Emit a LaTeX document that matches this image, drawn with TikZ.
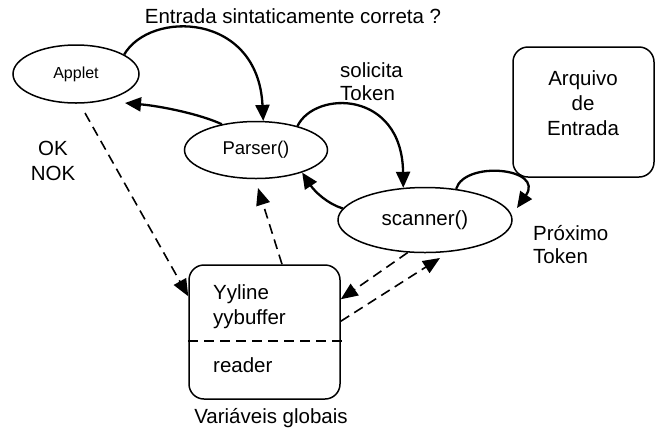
\documentclass[tikz,border=0pt]{standalone}
\usepackage{fontspec}
\setmainfont{Liberation Sans}
\usetikzlibrary{arrows.meta,calc,shapes.geometric}
\begin{document}
\begin{tikzpicture}[x=1pt,y=-1pt,
  ell/.style={draw,ellipse,line width=1.5pt,inner sep=0pt},
  rbox/.style={draw,rectangle,line width=1.5pt,inner sep=0pt},
  lbl/.style={inner sep=0pt,font=\fontsize{20.5}{24}\selectfont},
  solidarr/.style={line width=2.3pt,-{Triangle[length=16pt,width=14pt]}},
  dasharr/.style={line width=1.6pt,dash pattern=on 10pt off 6pt,-{Triangle[length=17pt,width=14pt]}}]
\useasboundingbox (0,0) rectangle (655,432);
% nodes
\node[ell,minimum width=126pt,minimum height=58pt,font=\fontsize{16}{19}\selectfont] (applet) at (76,74) {Applet};
\node[ell,minimum width=143pt,minimum height=57pt,font=\fontsize{18.5}{22}\selectfont] (parser) at (256,150) {Parser()};
\node[ell,minimum width=174pt,minimum height=65pt,font=\fontsize{20.5}{24}\selectfont] (scanner) at (425,220) {scanner()};
\node[rbox,rounded corners=15pt,minimum width=141pt,minimum height=130pt] (arq) at (583.5,112) {};
\node[rbox,rounded corners=15pt,minimum width=151pt,minimum height=134pt] (vars) at (264.5,332) {};
% texts
\node[lbl,anchor=base] (title) at (293,23) {Entrada sintaticamente correta ?};
\node[lbl,anchor=base] (ok) at (53,155) {OK};
\node[lbl,anchor=base] (nok) at (53,180) {NOK};
\node[lbl,anchor=base west] (sol1) at (340,77) {solicita};
\node[lbl,anchor=base west] (sol2) at (340,100) {Token};
\node[lbl,anchor=base] (arq1) at (583,85) {Arquivo};
\node[lbl,anchor=base] (arq2) at (583,110) {de};
\node[lbl,anchor=base] (arq3) at (583,135) {Entrada};
\node[lbl,anchor=base west] (prox1) at (533,240) {Próximo};
\node[lbl,anchor=base west] (prox2) at (533,263) {Token};
\node[lbl,anchor=base west] (v1) at (213,299) {Yyline};
\node[lbl,anchor=base west] (v2) at (213,324) {yybuffer};
\node[lbl,anchor=base west] (v3) at (213,372) {reader};
\node[lbl,anchor=base] (vg) at (271,423) {Variáveis globais};
% dashed separator in box
\draw[line width=1.6pt,dash pattern=on 10pt off 6pt] ([yshift=-77pt]vars.north west) -- ([yshift=-77pt,xshift=2pt]vars.north east);
% solid arrows
\draw[solidarr] (applet.22) .. controls (150,10) and (258,12) .. (parser.76);
\draw[solidarr] (parser.143) .. controls (200,114) and (160,106) .. ($(applet.center)+(49,29)$);
\draw[solidarr] (parser.30) .. controls (315,90) and (402,90) .. (scanner.124);
\draw[solidarr] (scanner.172) .. controls (328,204) and (315,192) .. (parser.-26);
\draw[solidarr] (scanner.45) .. controls (465,160) and (545,168) .. ($(scanner.center)+(92,-12)$);
% dashed arrows
\draw[dasharr] ($(applet.center)+(9,39)$) -- ([yshift=-32pt]vars.north west);
\draw[dasharr] ([xshift=17.5pt]vars.north) -- ($(parser.center)+(2,38)$);
\draw[dasharr] (scanner.-118) -- ([yshift=-35pt]vars.north east);
\draw[dasharr] ([yshift=-57pt]vars.north east) -- ($(scanner.center)+(15,38)$);
\end{tikzpicture}
\end{document}
